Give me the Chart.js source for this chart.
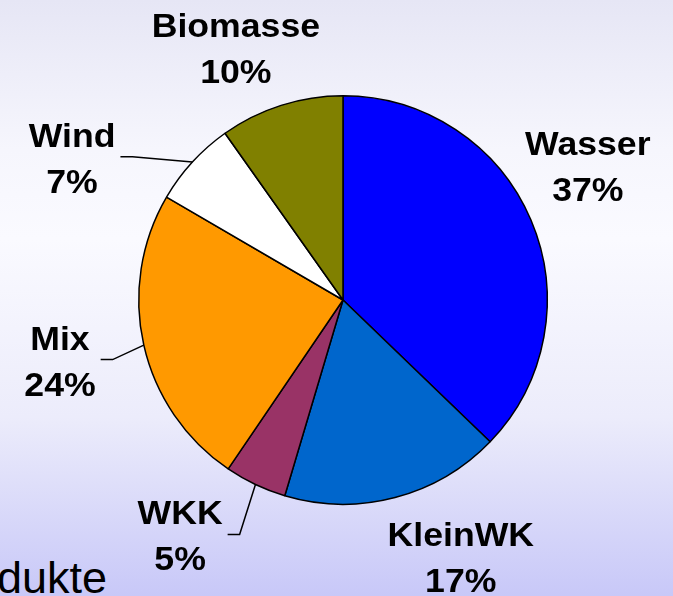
<!DOCTYPE html>
<html>
<head>
<meta charset="utf-8">
<script src="https://cdn.jsdelivr.net/npm/chart.js@4/dist/chart.umd.min.js"></script>
<style>
    html, body {
        margin: 0;
        padding: 0;
        width: 673px;
        height: 596px;
        overflow: hidden;
    }
    body {
        position: relative;
        background: linear-gradient(to bottom, #e6e6f5 0%, #f6f6fd 25%, #fafaff 40%, #ececfb 70%, #c8c8f8 100%);
        font-family: "Liberation Sans", Arial, sans-serif;
    }
    #wrap {
        position: absolute;
        left: 0;
        top: 0;
        width: 673px;
        height: 596px;
    }
    .footer {
        position: absolute;
        left: -3px;
        top: 555px;
        font-size: 45px;
        line-height: 1;
        color: #000;
    }
</style>
</head>
<body>
<div class="footer">dukte</div>
<div id="wrap"><canvas id="pieChart" width="673" height="596"></canvas></div>
<script>
// chart data (shares in %, labels show them rounded)
const categories = ['Wasser', 'KleinWK', 'WKK', 'Mix', 'Wind', 'Biomasse'];
const shares = [37.2, 17.4, 4.9, 23.9, 6.8, 9.8];
const sliceColors = ['#0000ff', '#0066cc', '#993366', '#ff9900', '#ffffff', '#808000'];

// where each label sits relative to its slice (radius factor, angle nudge in degrees)
const labelPlacement = [
    { dist: 1.367, nudge: -5.7, leader: false },
    { dist: 1.382, nudge: -9.9, leader: false },
    { dist: 1.402, nudge: 9.3, leader: true },
    { dist: 1.417, nudge: 0.7, leader: true },
    { dist: 1.498, nudge: -14.8, leader: true },
    { dist: 1.340, nudge: -5.4, leader: false }
];

const LABEL_FONT = 'bold 33px "Liberation Sans", Arial, sans-serif';
const STRETCH = 1.08;
const LINE_GAP = 46;

const outsideLabels = {
    id: 'outsideLabels',
    afterDatasetsDraw(chart) {
        const ctx = chart.ctx;
        const meta = chart.getDatasetMeta(0);
        ctx.save();
        ctx.font = LABEL_FONT;
        ctx.fillStyle = '#000';
        ctx.strokeStyle = '#000';
        ctx.lineWidth = 1.5;
        ctx.textBaseline = 'alphabetic';
        ctx.textAlign = 'center';
        meta.data.forEach((arc, i) => {
            const p = arc.getProps(['x', 'y', 'startAngle', 'endAngle', 'outerRadius'], true);
            const mid = (p.startAngle + p.endAngle) / 2;
            const place = labelPlacement[i];
            const a = mid + place.nudge * Math.PI / 180;
            const r = p.outerRadius * place.dist;
            const lx = p.x + Math.cos(a) * r;
            const ly = p.y + Math.sin(a) * r;
            const lines = [categories[i], Math.round(shares[i]) + '%'];
            const b1 = ly - 11;
            lines.forEach((txt, k) => {
                ctx.save();
                ctx.translate(lx, b1 + k * LINE_GAP);
                ctx.scale(STRETCH, 1);
                ctx.fillText(txt, 0, 0);
                ctx.restore();
            });
            if (place.leader) {
                const w = Math.max(...lines.map(t => ctx.measureText(t).width)) * STRETCH;
                const right = lx + w / 2 + 5;
                const ex = p.x + Math.cos(mid) * p.outerRadius;
                const ey = p.y + Math.sin(mid) * p.outerRadius;
                ctx.beginPath();
                ctx.moveTo(ex, ey);
                ctx.lineTo(right + 12, ly - 1);
                ctx.lineTo(right, ly - 1);
                ctx.stroke();
            }
        });
        ctx.restore();
    }
};

document.addEventListener('DOMContentLoaded', () => {
    const ctx = document.getElementById('pieChart').getContext('2d');
    new Chart(ctx, {
        type: 'pie',
        data: {
            labels: categories,
            datasets: [{
                data: shares,
                backgroundColor: sliceColors,
                borderColor: '#000',
                borderWidth: 1.5
            }]
        },
        options: {
            responsive: false,
            animation: false,
            layout: {
                padding: { left: 138, right: 125, top: 95, bottom: 91 }
            },
            plugins: {
                legend: { display: false },
                tooltip: { enabled: false }
            }
        },
        plugins: [outsideLabels]
    });
});
</script>
</body>
</html>
